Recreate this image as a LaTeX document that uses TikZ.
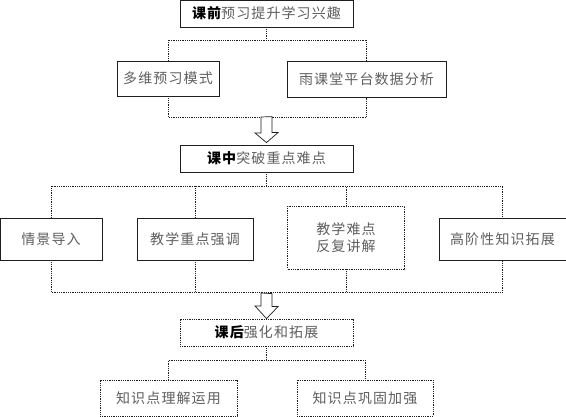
\documentclass[tikz,border=0pt]{standalone}
\usepackage{fontspec}
\setmainfont{Noto Sans CJK SC}[LetterSpace=8]
\usetikzlibrary{calc}
\definecolor{ink}{RGB}{30,30,30}
\definecolor{soft}{RGB}{95,95,95}
\tikzset{
  every picture/.style={color=ink, line width=0.8pt},
  box/.style={draw=ink, fill=white, inner sep=2pt, align=center, text=soft,
    font=\fontsize{14}{20}\selectfont},
  dotbox/.style={box, densely dotted},
  link/.style={densely dotted, line width=0.8pt},
  hollow/.style={draw=ink, fill=white, line width=0.7pt, line join=miter},
}
\newcommand{\lead}[1]{\textbf{\textcolor{black}{#1}}}
\begin{document}
\begin{tikzpicture}[x=1pt, y=-1pt]
  \useasboundingbox (0,0) rectangle (566,417);
  % before class
  \node[box, minimum width=173pt, minimum height=27pt] (pre) at (266.5,13.5) {\lead{课前}预习提升学习兴趣};
  \node[box, minimum width=102pt, minimum height=35pt] (mode) at (168,78.5) {多维预习模式};
  \node[box, minimum width=159pt, minimum height=36pt] (rain) at (366.5,79) {雨课堂平台数据分析};
  % in class
  \node[box, minimum width=173pt, minimum height=27pt] (mid) at (266.5,158.5) {\lead{课中}突破重点难点};
  \node[box, minimum width=102pt, minimum height=42pt] (scene) at (51,239) {情景导入};
  \node[box, minimum width=116pt, minimum height=42pt] (key) at (195,239) {教学重点强调};
  \node[dotbox, minimum width=117pt, minimum height=63pt] (diff) at (346,237.5) {教学难点\\[-3pt]反复讲解};
  \node[box, minimum width=127pt, minimum height=42pt] (ext) at (502.5,239) {高阶性知识拓展};
  % after class
  \node[dotbox, minimum width=173pt, minimum height=27pt] (post) at (266.5,332.5) {\lead{课后}强化和拓展};
  \node[dotbox, minimum width=137pt, minimum height=36pt] (apply) at (168.5,398) {知识点理解运用};
  \node[dotbox, minimum width=136pt, minimum height=36pt] (cons) at (365,398) {知识点巩固加强};

  \coordinate (j1) at (266.5,40);
  \coordinate (j2) at (266.5,117);
  \coordinate (j3) at (266.5,186);
  \coordinate (j4) at (266.5,292);
  \coordinate (j5) at (266.5,360);

  \draw[link] (pre) -- (j1);
  \draw[link] (mode.north) -- (mode.north|-j1) -- (rain.north|-j1) -- (rain.north);
  \draw[link] (mode.south) -- (mode.south|-j2) -- (rain.south|-j2) -- (rain.south);

  \draw[link] (mid) -- (j3);
  \draw[link] (scene.north) -- (scene.north|-j3) -- (ext.north|-j3) -- (ext.north);
  \draw[link] (key.north) -- (key.north|-j3);
  \draw[link] (diff.north) -- (diff.north|-j3);
  \draw[link] (scene.south) -- (scene.south|-j4) -- (ext.south|-j4) -- (ext.south);
  \draw[link] (key.south) -- (key.south|-j4);
  \draw[link] (diff.south) -- (diff.south|-j4);

  \draw[link] (post) -- (j5);
  \draw[link] (apply.north) -- (apply.north|-j5) -- (cons.north|-j5) -- (cons.north);

  % hollow arrows between stages
  \draw[hollow] (j2) ++(-5.5,0) -- ++(0,16) -- ++(-6,0) -- ($(mid.north)+(0,-2)$)
    -- ($(j2|-mid.north)+(11.5,-12)$) -- ++(-6,0) -- ++(0,-16) -- cycle;
  \draw[hollow] ($(j4)+(0,1)$) ++(-5.5,0) -- ++(0,13) -- ++(-6,0) -- (post.north)
    -- ($(j4|-post.north)+(11.5,-12)$) -- ++(-6,0) -- ++(0,-13) -- cycle;
\end{tikzpicture}
\end{document}
